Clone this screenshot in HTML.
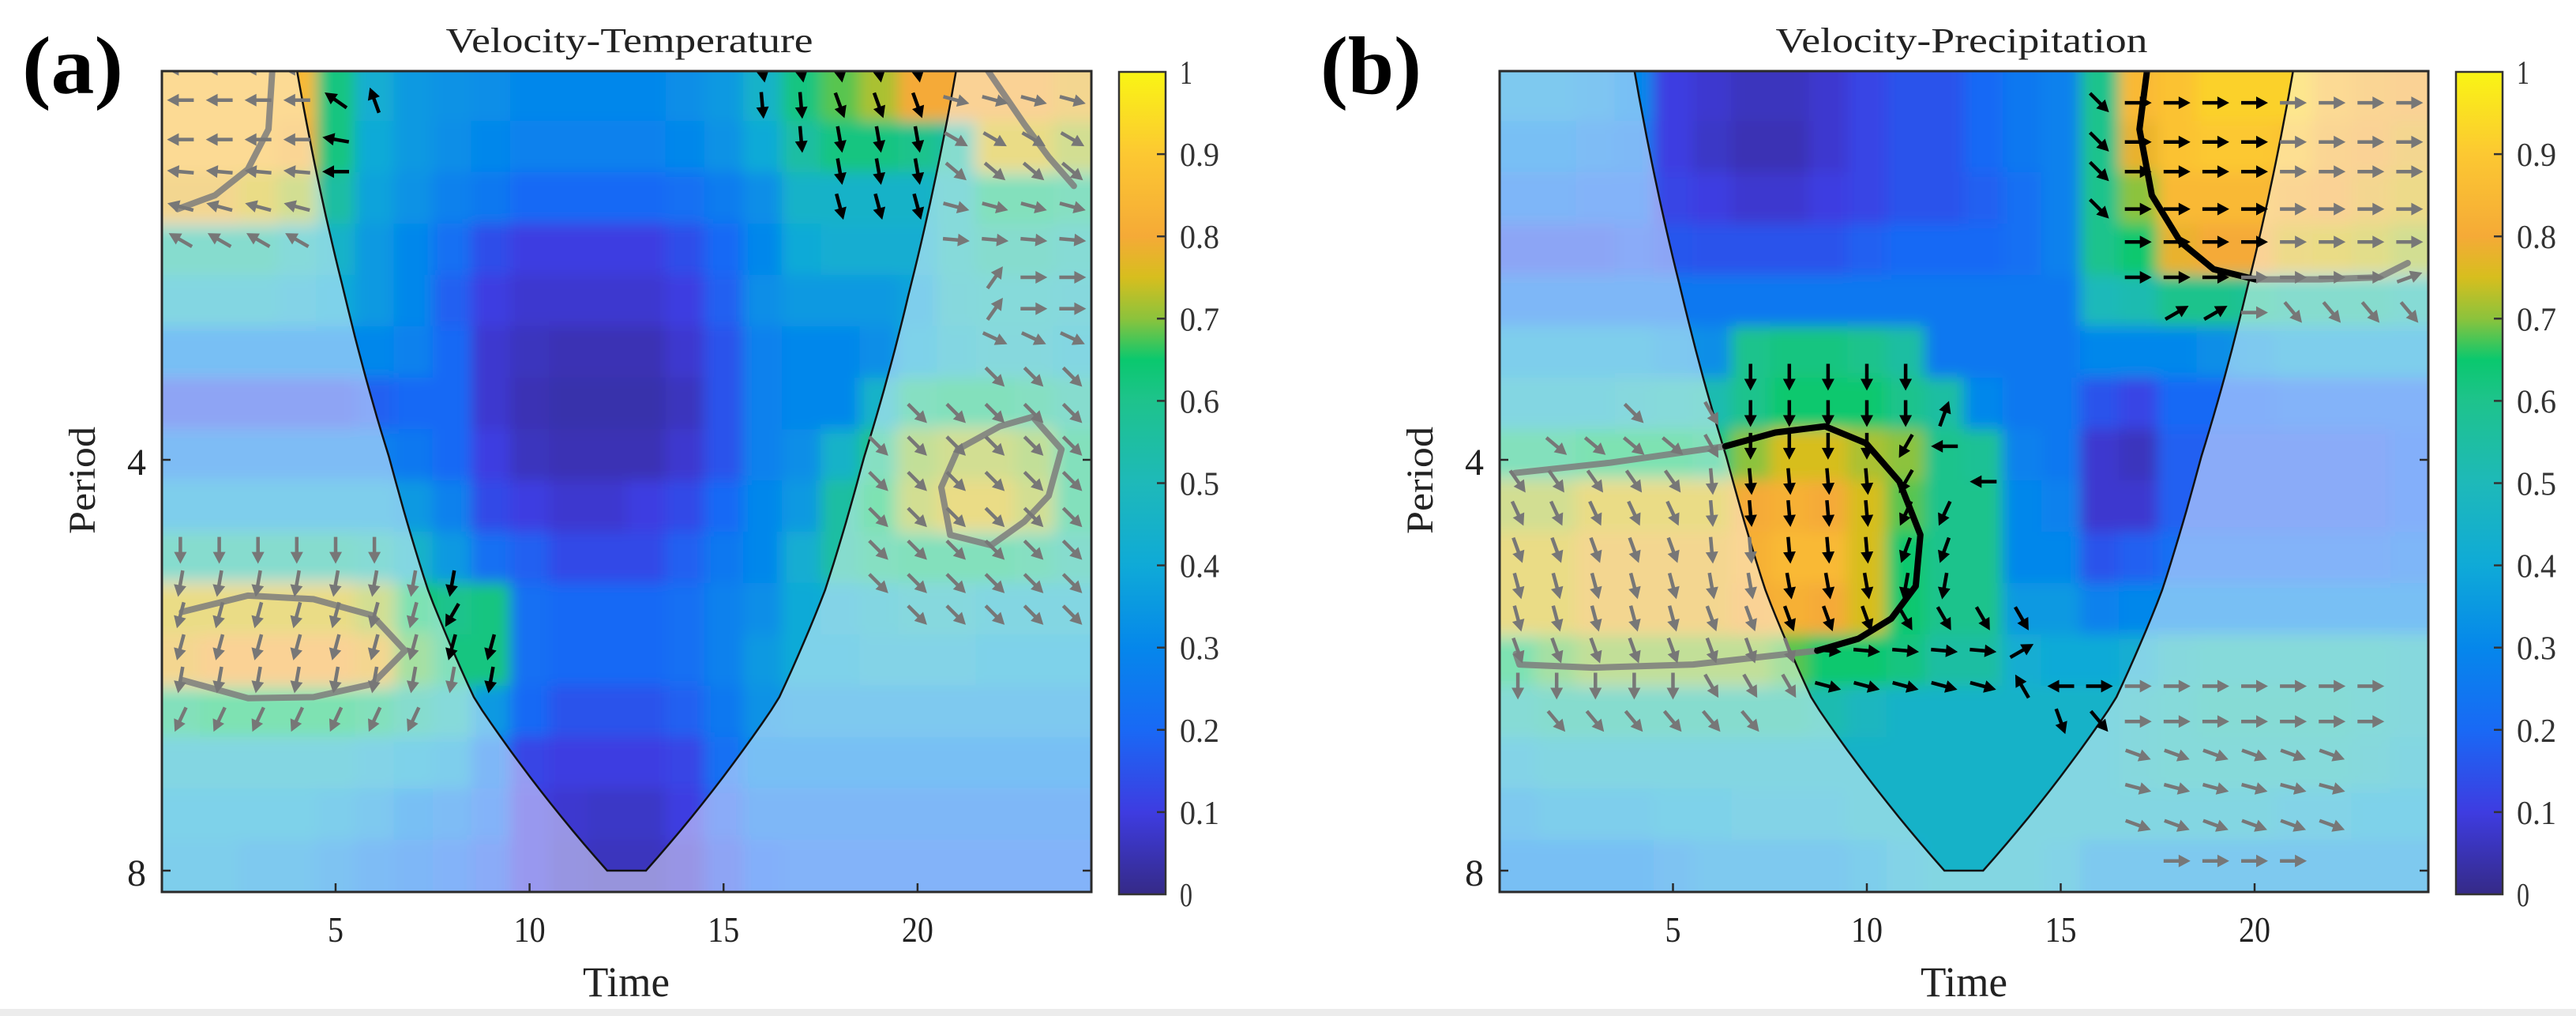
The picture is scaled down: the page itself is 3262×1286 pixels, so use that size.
<!DOCTYPE html>
<html><head><meta charset="utf-8"><style>
html,body{margin:0;padding:0;background:#fff;}
svg{display:block;font-family:"Liberation Serif",serif;}
</style></head><body>
<svg id="fig" width="3262" height="1286" viewBox="0 0 3262 1286" xmlns="http://www.w3.org/2000/svg">
<defs>
<filter id="blur" x="-5%" y="-5%" width="110%" height="110%"><feGaussianBlur stdDeviation="9"/></filter>
<clipPath id="clipA"><rect x="205" y="90" width="1177" height="1039"/></clipPath>
<clipPath id="clipB"><rect x="1899" y="90" width="1176" height="1039"/></clipPath>
<linearGradient id="cbgrad" x1="0" y1="1" x2="0" y2="0">
<stop offset="0" stop-color="rgb(53,42,135)"/><stop offset="0.1" stop-color="rgb(62,60,225)"/>
<stop offset="0.2" stop-color="rgb(25,105,245)"/><stop offset="0.3" stop-color="rgb(5,135,235)"/>
<stop offset="0.4" stop-color="rgb(15,170,215)"/><stop offset="0.5" stop-color="rgb(30,185,185)"/>
<stop offset="0.6" stop-color="rgb(30,195,140)"/><stop offset="0.65" stop-color="rgb(10,200,110)"/>
<stop offset="0.7" stop-color="rgb(140,195,60)"/><stop offset="0.75" stop-color="rgb(215,190,30)"/>
<stop offset="0.8" stop-color="rgb(245,170,55)"/><stop offset="0.9" stop-color="rgb(252,200,50)"/>
<stop offset="1" stop-color="rgb(249,245,20)"/>
</linearGradient>
</defs>
<rect x="0" y="0" width="3262" height="1286" fill="#fff"/>
<rect x="0" y="1277" width="3262" height="9" fill="#ececec"/>
</svg>
<script>
const timeCats=[1,2,3,4,5,6,7,8,9,10,11,12,13,14,15,16,17,18,19,20,21,22,23,24];
const rowPeriods=[2.162,2.358,2.571,2.804,3.058,3.334,3.636,3.966,4.324,4.716,5.142,5.608,6.115,6.669,7.272,7.931];
const timeTicks=[5,10,15,20];
const timeTickLabels=['5','10','15','20'];
const periodTicks=[4,8];
const periodTickLabels=['4','8'];
const cbTicks=[0,0.1,0.2,0.3,0.4,0.5,0.6,0.7,0.8,0.9,1];
const cbTickLabels=['0','0.1','0.2','0.3','0.4','0.5','0.6','0.7','0.8','0.9','1'];
const coiPeriods=[2.07,3,4,5,6,7,8];
const coiLeft=[4.0,5.2,6.4,7.4,8.6,10.3,12.0];

const valuesA=[
[.85,.85,.85,.85,.62,.42,.35,.33,.32,.3,.3,.3,.3,.32,.35,.45,.62,.68,.72,.8,.8,.8,.8,.78],
[.85,.85,.85,.82,.62,.4,.35,.32,.3,.28,.28,.28,.28,.3,.33,.4,.55,.62,.62,.6,.55,.75,.75,.72],
[.78,.78,.75,.72,.55,.38,.33,.28,.25,.2,.2,.2,.2,.22,.26,.32,.45,.45,.45,.45,.5,.62,.62,.6],
[.55,.55,.55,.5,.45,.35,.3,.22,.14,.1,.1,.1,.1,.14,.2,.3,.4,.42,.42,.42,.5,.55,.55,.52],
[.45,.45,.45,.42,.4,.35,.3,.18,.1,.08,.08,.08,.08,.1,.18,.32,.35,.35,.35,.38,.48,.5,.5,.48],
[.3,.3,.3,.3,.3,.3,.28,.2,.08,.06,.05,.05,.05,.08,.15,.28,.3,.3,.32,.4,.45,.48,.48,.45],
[.15,.15,.15,.15,.15,.18,.2,.2,.08,.05,.04,.04,.04,.06,.15,.28,.3,.3,.45,.6,.62,.62,.6,.55],
[.28,.28,.28,.28,.28,.28,.25,.2,.1,.06,.05,.05,.05,.08,.15,.28,.32,.45,.6,.7,.72,.72,.7,.62],
[.38,.38,.38,.38,.38,.38,.35,.28,.13,.1,.08,.08,.1,.13,.2,.3,.35,.55,.65,.72,.75,.75,.72,.62],
[.55,.55,.55,.55,.55,.52,.45,.35,.22,.18,.13,.13,.13,.18,.25,.3,.42,.55,.6,.62,.62,.62,.6,.55],
[.75,.75,.75,.75,.75,.72,.65,.6,.62,.22,.2,.2,.2,.22,.28,.32,.4,.42,.45,.48,.48,.45,.45,.45],
[.78,.8,.8,.8,.8,.78,.68,.62,.62,.22,.2,.2,.2,.22,.28,.35,.4,.4,.42,.42,.42,.4,.4,.4],
[.62,.65,.65,.65,.65,.62,.55,.5,.35,.2,.15,.15,.15,.18,.25,.33,.35,.35,.35,.35,.35,.35,.35,.35],
[.45,.45,.45,.45,.45,.42,.4,.38,.25,.12,.1,.1,.1,.12,.22,.3,.3,.3,.3,.3,.3,.3,.3,.3],
[.4,.4,.4,.4,.38,.35,.3,.28,.22,.1,.08,.07,.07,.1,.18,.25,.25,.25,.25,.25,.25,.25,.25,.25],
[.38,.38,.35,.35,.32,.28,.25,.22,.18,.1,.07,.06,.06,.08,.15,.2,.22,.22,.22,.22,.22,.22,.22,.22]
];
const valuesB=[
[.35,.35,.33,.3,.1,.08,.06,.06,.08,.12,.15,.15,.2,.25,.28,.6,.85,.88,.92,.92,.92,.85,.82,.8],
[.3,.3,.28,.26,.1,.07,.05,.05,.08,.12,.15,.15,.2,.25,.28,.6,.78,.88,.9,.9,.88,.82,.8,.78],
[.24,.24,.22,.22,.12,.1,.08,.08,.1,.12,.15,.15,.18,.22,.28,.6,.7,.85,.85,.85,.82,.8,.78,.76],
[.16,.16,.16,.18,.16,.15,.15,.15,.15,.18,.2,.2,.2,.22,.28,.6,.65,.78,.8,.8,.76,.75,.74,.72],
[.25,.25,.25,.25,.25,.25,.25,.25,.25,.25,.25,.25,.25,.25,.25,.5,.52,.6,.6,.58,.55,.55,.55,.52],
[.38,.38,.38,.38,.35,.32,.6,.62,.62,.6,.55,.25,.25,.25,.25,.3,.3,.3,.32,.35,.38,.38,.38,.38],
[.45,.45,.45,.48,.5,.52,.6,.65,.65,.65,.6,.55,.3,.25,.25,.15,.12,.2,.2,.2,.22,.22,.22,.22],
[.62,.62,.65,.65,.65,.62,.7,.75,.75,.72,.7,.6,.58,.28,.25,.08,.06,.18,.18,.18,.18,.18,.18,.2],
[.72,.72,.75,.75,.75,.75,.8,.82,.8,.75,.68,.6,.6,.3,.28,.08,.08,.18,.18,.18,.18,.18,.18,.2],
[.75,.75,.78,.78,.78,.78,.82,.85,.85,.75,.65,.6,.6,.3,.3,.15,.18,.22,.22,.22,.22,.22,.22,.24],
[.75,.75,.78,.78,.78,.78,.8,.82,.8,.75,.65,.6,.6,.35,.35,.28,.3,.3,.3,.3,.3,.3,.3,.3],
[.65,.68,.7,.7,.7,.7,.7,.68,.65,.65,.62,.55,.55,.42,.4,.4,.42,.48,.5,.5,.5,.5,.5,.48],
[.52,.55,.55,.55,.55,.55,.55,.55,.52,.48,.45,.45,.45,.45,.45,.45,.48,.5,.52,.52,.52,.52,.5,.48],
[.42,.45,.45,.45,.45,.45,.45,.45,.45,.45,.45,.45,.45,.45,.45,.45,.48,.5,.5,.5,.5,.5,.48,.45],
[.35,.38,.38,.38,.4,.4,.42,.42,.42,.45,.45,.45,.45,.45,.45,.45,.45,.45,.45,.45,.42,.42,.4,.4],
[.3,.3,.3,.3,.32,.35,.35,.35,.35,.38,.42,.45,.45,.45,.42,.35,.35,.35,.35,.35,.35,.35,.35,.35]
];
// arrow groups: [tStart, tEnd, period, angleDeg(screen)]
const arrowsA=[
[1,4,2.07,180],[1,4,2.18,180],[1,4,2.33,180],[1,4,2.46,185],[1,4,2.61,195],[1,4,2.76,210],
[5,5,2.18,215],[5,5,2.33,190],[5,5,2.46,180],[6,6,2.18,250],
[16,20,2.07,80],[16,17,2.2,85],[17,17,2.33,85],[18,20,2.2,70],[18,20,2.33,80],[18,20,2.46,80],[18,20,2.61,75],
[21,24,2.18,15],[21,24,2.33,30],[21,24,2.46,40],[21,24,2.61,15],[21,24,2.76,5],
[22,22,2.94,-55],[23,24,2.94,0],[22,22,3.10,-55],[23,24,3.10,0],[22,24,3.26,25],[22,24,3.48,45],
[20,24,3.70,45],[19,24,3.91,45],[19,24,4.15,45],[19,24,4.41,45],[19,24,4.66,45],[19,24,4.93,45],[20,24,5.20,45],
[1,6,4.66,90],[1,8,4.93,100],[1,7,5.20,105],[8,8,5.2,120],[1,9,5.49,105],[1,9,5.80,100],[1,7,6.2,115]
];
const arrowsB=[
[16,16,2.19,45],[17,24,2.19,0],[16,16,2.34,45],[17,24,2.34,0],[16,16,2.46,45],[17,24,2.46,0],
[16,16,2.62,45],[17,24,2.62,0],[17,24,2.77,0],[17,23,2.94,0],[24,24,2.94,-20],
[18,19,3.12,-30],[20,20,3.12,0],[21,24,3.12,50],
[7,11,3.48,90],[4,4,3.70,45],[6,6,3.70,60],[7,11,3.70,90],[12,12,3.70,-70],
[2,5,3.91,40],[6,6,3.91,60],[7,10,3.91,90],[11,11,3.91,120],[12,12,3.91,180],
[1,5,4.15,55],[6,10,4.15,85],[11,11,4.15,120],[13,13,4.15,180],
[1,5,4.38,65],[6,10,4.38,85],[11,12,4.38,115],
[1,5,4.66,70],[6,10,4.66,85],[11,12,4.66,110],
[1,5,4.95,75],[6,10,4.95,80],[11,12,4.95,100],
[1,5,5.23,75],[6,10,5.23,70],[11,12,5.23,60],[13,14,5.23,60],
[1,8,5.52,70],[9,13,5.52,5],[14,14,5.52,-30],
[1,5,5.86,90],[6,8,5.86,60],[9,13,5.86,15],[14,14,5.86,240],[15,15,5.86,180],[16,23,5.86,0],
[2,7,6.22,50],[15,15,6.22,70],[16,16,6.22,50],[17,23,6.22,0],
[17,22,6.58,20],[17,22,6.96,15],[17,22,7.41,20],[18,21,7.87,0]
];
const contA1T=[3.37,3.27,2.74,1.89,0.93], contA1P=[2.07,2.29,2.45,2.56,2.62];
const contA2T=[21.79,22.75,23.38,24.03], contA2P=[2.07,2.27,2.40,2.52];
const contA3T=[22.97,23.71,23.38,22.75,21.9,20.84,20.61,21.04,22.12,22.97], contA3P=[3.72,3.93,4.25,4.44,4.62,4.54,4.19,3.93,3.78,3.72];
const contA4T=[1.04,2.74,4.43,5.94,6.79,5.94,4.43,2.74,1.04], contA4P=[5.17,5.03,5.06,5.20,5.52,5.84,5.97,5.98,5.80];
const contB1T=[0.92,3.38,6.35], contB1P=[4.09,4.02,3.91];
const contB2T=[6.35,7.64,8.92,9.98,10.84,11.38,11.26,10.63,9.78,8.72], contB2P=[3.91,3.82,3.78,3.89,4.15,4.54,4.95,5.23,5.41,5.52];
const contB3T=[8.72,5.52,2.95,1.04,0.95], contB3P=[5.52,5.65,5.68,5.65,5.55];
const contB4T=[17.23,17.03,17.35,18.09,18.94,20.02], contB4P=[2.07,2.29,2.56,2.77,2.90,2.95];
const contB5T=[20.02,21.71,23.22,23.95], contB5P=[2.95,2.95,2.94,2.87];

const NS='http://www.w3.org/2000/svg';
const svg=document.getElementById('fig');
function mk(tag,attrs,parent){const e=document.createElementNS(NS,tag);for(const k in attrs)e.setAttribute(k,attrs[k]);(parent||svg).appendChild(e);return e;}
const stops=[[0,53,42,135],[0.1,62,60,225],[0.2,25,105,245],[0.3,5,135,235],[0.4,15,170,215],[0.5,30,185,185],[0.6,30,195,140],[0.65,10,200,110],[0.7,140,195,60],[0.75,215,190,30],[0.8,245,170,55],[0.9,252,200,50],[1,249,245,20]];
function cmap(v){v=Math.max(0,Math.min(1,v));for(let i=1;i<stops.length;i++){if(v<=stops[i][0]){const a=stops[i-1],b=stops[i];const f=(v-a[0])/(b[0]-a[0]);return 'rgb('+[1,2,3].map(k=>Math.round(a[k]+(b[k]-a[k])*f)).join(',')+')';}}return 'rgb(249,245,20)';}
function yOf(p){return 582+(Math.log2(p)-2)*520;}
function coiL(p){if(p<=coiPeriods[0])return coiLeft[0];for(let i=1;i<coiPeriods.length;i++){if(p<=coiPeriods[i]){const f=(p-coiPeriods[i-1])/(coiPeriods[i]-coiPeriods[i-1]);return coiLeft[i-1]+f*(coiLeft[i]-coiLeft[i-1]);}}return 99;}
function inside(t,p){const l=coiL(p);return p<=8&&t>l&&t<25-l;}

function panel(P){
  const xOf=t=>P.tOrigin+t*P.tUnit;
  const g=mk('g',{});
  
  
  const clipG=mk('g',{'clip-path':'url(#'+P.clip+')'},g);
  const heat=mk('g',{filter:'url(#blur)'},clipG);
  
  
  const half=Math.pow(2,0.0625);
  P.values.forEach((row,ri)=>{
    const p=rowPeriods[ri];
    let y0=yOf(p/half), y1=yOf(p*half);
    if(ri===0)y0-=40; if(ri===rowPeriods.length-1)y1+=40;
    row.forEach((v,ci)=>{
      const t=timeCats[ci];
      let x0=xOf(t-0.5), x1=xOf(t+0.5);
      if(ci===0)x0-=40; if(ci===timeCats.length-1)x1+=40;
      const r=mk('rect',{x:x0.toFixed(1),y:y0.toFixed(1),width:(x1-x0+0.8).toFixed(1),height:(y1-y0+0.8).toFixed(1),fill:cmap(v)},heat);
      
      
    });
  });
  function coneSide(sign){const pts=[];for(let k=0;k<=60;k++){const L=Math.log2(coiPeriods[0])+(3-Math.log2(coiPeriods[0]))*k/60;const p=Math.pow(2,L);const tl=coiL(p);pts.push([xOf(sign<0?tl:25-tl),yOf(p)]);}return pts;}
  const lp=coneSide(-1), rp=coneSide(1).reverse();
  const topY=yOf(coiPeriods[0])-20;
  const coneD='M'+lp[0][0]+','+topY+' '+lp.map(q=>'L'+q[0].toFixed(1)+','+q[1].toFixed(1)).join(' ')+' '+rp.map(q=>'L'+q[0].toFixed(1)+','+q[1].toFixed(1)).join(' ')+' L'+rp[rp.length-1][0]+','+topY+' Z';
  const ov=mk('path',{d:'M'+(P.x0-5)+','+(P.y0-5)+' H'+(P.x1+5)+' V'+(P.y1+5)+' H'+(P.x0-5)+' Z '+coneD,fill:'#fff','fill-opacity':0.47,'fill-rule':'evenodd'},clipG);
  
  
  const cl=mk('path',{d:'M'+lp.map(q=>q[0].toFixed(1)+','+q[1].toFixed(1)).join(' L')+' L'+rp.map(q=>q[0].toFixed(1)+','+q[1].toFixed(1)).join(' L'),fill:'none',stroke:'#111','stroke-width':2.5},clipG);
  
  
  P.contours.forEach(c=>{
    const d='M'+c[0].map((t,i)=>xOf(t).toFixed(1)+','+yOf(c[1][i]).toFixed(1)).join(' L');
    const pe=mk('path',{d:d,fill:'none',stroke:c[2],'stroke-width':8,'stroke-linejoin':'round','stroke-linecap':'round','stroke-opacity':c[2]==='#000'?1:0.85},clipG);
    
    
  });
  P.arrows.forEach(a=>{
    for(let t=a[0];t<=a[1];t++){
      const cx=xOf(t), cy=yOf(a[2]);
      const L=34;
      const col=inside(t,a[2])?'#000':'#777';
      const ag=mk('g',{transform:'translate('+cx.toFixed(1)+','+cy.toFixed(1)+') rotate('+a[3]+')'},clipG);
      
      
      mk('line',{x1:-L/2,y1:0,x2:L/2-8,y2:0,stroke:col,'stroke-width':4.5},ag);
      mk('path',{d:'M'+(L/2)+',0 L'+(L/2-15)+',-8 L'+(L/2-15)+',8 Z',fill:col},ag);
    }
  });
  const fr=mk('rect',{x:P.x0,y:P.y0,width:P.x1-P.x0,height:P.y1-P.y0,fill:'none',stroke:'#2a2a2a','stroke-width':3},g);
  
  
  timeTicks.forEach((t,i)=>{
    const x=xOf(t);
    mk('line',{x1:x,y1:P.y1,x2:x,y2:P.y1-11,stroke:'#2a2a2a','stroke-width':2.5},g);
    const tx=mk('text',{x:x,y:1192,'text-anchor':'middle','font-size':46,fill:'#222',textLength:timeTickLabels[i].length*20,lengthAdjust:'spacingAndGlyphs'},g);
    tx.textContent=timeTickLabels[i];
    
    
  });
  periodTicks.forEach((p,i)=>{
    const y=yOf(p);
    mk('line',{x1:P.x0,y1:y,x2:P.x0+11,y2:y,stroke:'#2a2a2a','stroke-width':2.5},g);
    mk('line',{x1:P.x1,y1:y,x2:P.x1-11,y2:y,stroke:'#2a2a2a','stroke-width':2.5},g);
    const tx=mk('text',{x:P.x0-32,y:y+19,'text-anchor':'middle','font-size':48,fill:'#222',textLength:24,lengthAdjust:'spacingAndGlyphs'},g);
    tx.textContent=periodTickLabels[i];
    
    
  });
  const xt=mk('text',{x:P.timeX,y:1261,'text-anchor':'middle','font-size':54,fill:'#222',textLength:110,lengthAdjust:'spacingAndGlyphs'},g);
  xt.textContent='Time';
  
  
  const yt=mk('text',{x:0,y:0,'text-anchor':'middle','font-size':48,fill:'#222',textLength:136,lengthAdjust:'spacingAndGlyphs',transform:'translate('+(P.periodX+15)+',608) rotate(-90)'},g);
  yt.textContent='Period';
  
  
  const tt=mk('text',{x:P.titleX,y:66,'text-anchor':'middle','font-size':44,fill:'#222',textLength:P.titleW,lengthAdjust:'spacingAndGlyphs'},g);
  tt.textContent=P.title;
  
  
  const pl=mk('text',{x:P.labX,y:118,'font-size':104,'font-weight':'bold',fill:'#000',textLength:128,lengthAdjust:'spacingAndGlyphs'},g);
  pl.textContent=P.label;
  
  
  const cbTop=91, cbBot=1132;
  const cb=mk('rect',{x:P.cbX,y:cbTop,width:59,height:cbBot-cbTop,fill:'url(#cbgrad)',stroke:'#333','stroke-width':2.5},g);
  
  
  cbTicks.forEach((v,i)=>{
    const y=cbBot-v*(cbBot-cbTop);
    if(v>0&&v<1)mk('line',{x1:P.cbX+59,y1:y,x2:P.cbX+48,y2:y,stroke:'#333','stroke-width':2.5},g);
    const tx=mk('text',{x:P.cbX+77,y:y+15,'font-size':42,fill:'#333',textLength:cbTickLabels[i].length===1?16:50,lengthAdjust:'spacingAndGlyphs'},g);
    tx.textContent=cbTickLabels[i];
    
    
  });
}
panel({name:'velocity-temperature',x0:205,x1:1382,y0:90,y1:1129,tOrigin:179.3,tUnit:49.13,clip:'clipA',values:valuesA,arrows:arrowsA,
  contours:[[contA1T,contA1P,'#7d7d7d'],[contA2T,contA2P,'#7d7d7d'],[contA3T,contA3P,'#7d7d7d'],[contA4T,contA4P,'#7d7d7d']],
  cbX:1417,timeX:793,periodX:105,titleX:797,titleW:465,title:'Velocity-Temperature',labX:28,label:'(a)'});
panel({name:'velocity-precipitation',x0:1899,x1:3075,y0:90,y1:1129,tOrigin:1873,tUnit:49.1,clip:'clipB',values:valuesB,arrows:arrowsB,
  contours:[[contB1T,contB1P,'#7d7d7d'],[contB3T,contB3P,'#7d7d7d'],[contB5T,contB5P,'#7d7d7d'],[contB2T,contB2P,'#000'],[contB4T,contB4P,'#000']],
  cbX:3110,timeX:2487,periodX:1799,titleX:2484,titleW:471,title:'Velocity-Precipitation',labX:1672,label:'(b)'});
</script>
</body></html>
